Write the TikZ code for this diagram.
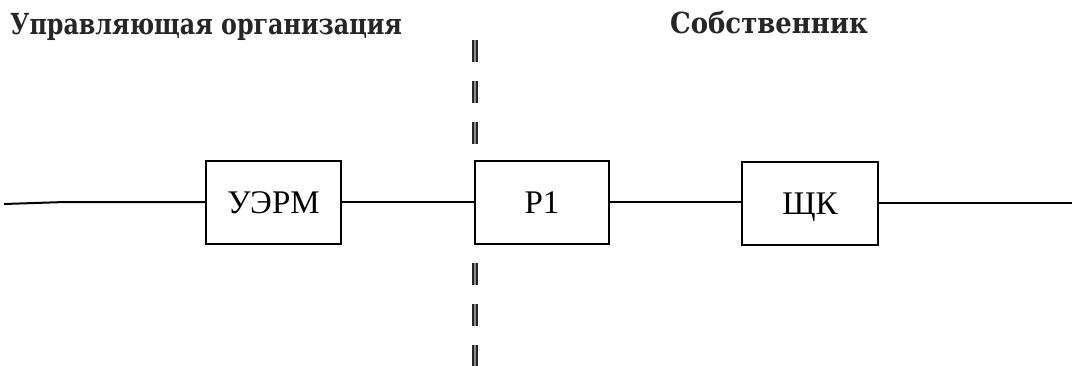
\documentclass[tikz,border=0pt]{standalone}
\usepackage{fontspec}
\setmainfont{Liberation Serif}
\newfontfamily\titlefont{DejaVu Serif}
\begin{document}
\begin{tikzpicture}[x=1pt,y=-1pt,
  blockbox/.style={draw=black, line width=2pt, minimum width=135pt, minimum height=83pt, inner sep=0pt, text height=22pt, text depth=0pt, font=\fontsize{33}{33}\selectfont, fill=white},
  wire/.style={line width=2pt},
  divider/.style={line width=1.4pt, draw=black!85, double=black!45, double distance=2.4pt, dash pattern=on 22pt off 19pt},
  title/.style={font=\titlefont\bfseries\fontsize{29}{29}\selectfont, anchor=base west, inner sep=0pt, text=black!85}]
\useasboundingbox (0,0) rectangle (1072,365);
\fill[white] (0,0) rectangle (1072,365);
% dividing dashed line
\coordinate (d1) at (475,40);
\coordinate (d2) at (475,145);
\coordinate (d3) at (475,263);
\coordinate (d4) at (475,366);
\draw[divider] (d1) -- (d2);
\draw[divider] (d3) -- (d4);
% titles
\node[title] (t1) at (10,34) {\scalebox{0.82}[1]{Управляющая организация}};
\node[title] (t2) at (670,33) {\scalebox{0.895}[1]{Собственник}};
% blocks
\node[blockbox] (u) at (273.5,202.5) {УЭРМ};
\node[blockbox, minimum width=134pt] (p) at (542,202.5) {P1};
\node[blockbox, minimum width=136pt] (s) at (810,203.5) {ЩК};
% wires
\coordinate (lin) at (4,204);
\coordinate (lmid) at (65,202);
\coordinate (rout) at (1072,203);
\draw[wire] (lin) -- (lmid) -- (u.west |- lmid);
\draw[wire] (u.east |- 0,202) -- (p.west |- 0,202);
\draw[wire] (p.east |- 0,202) -- (s.west |- 0,202);
\draw[wire] (s.east |- rout) -- (rout);
\end{tikzpicture}
\end{document}
